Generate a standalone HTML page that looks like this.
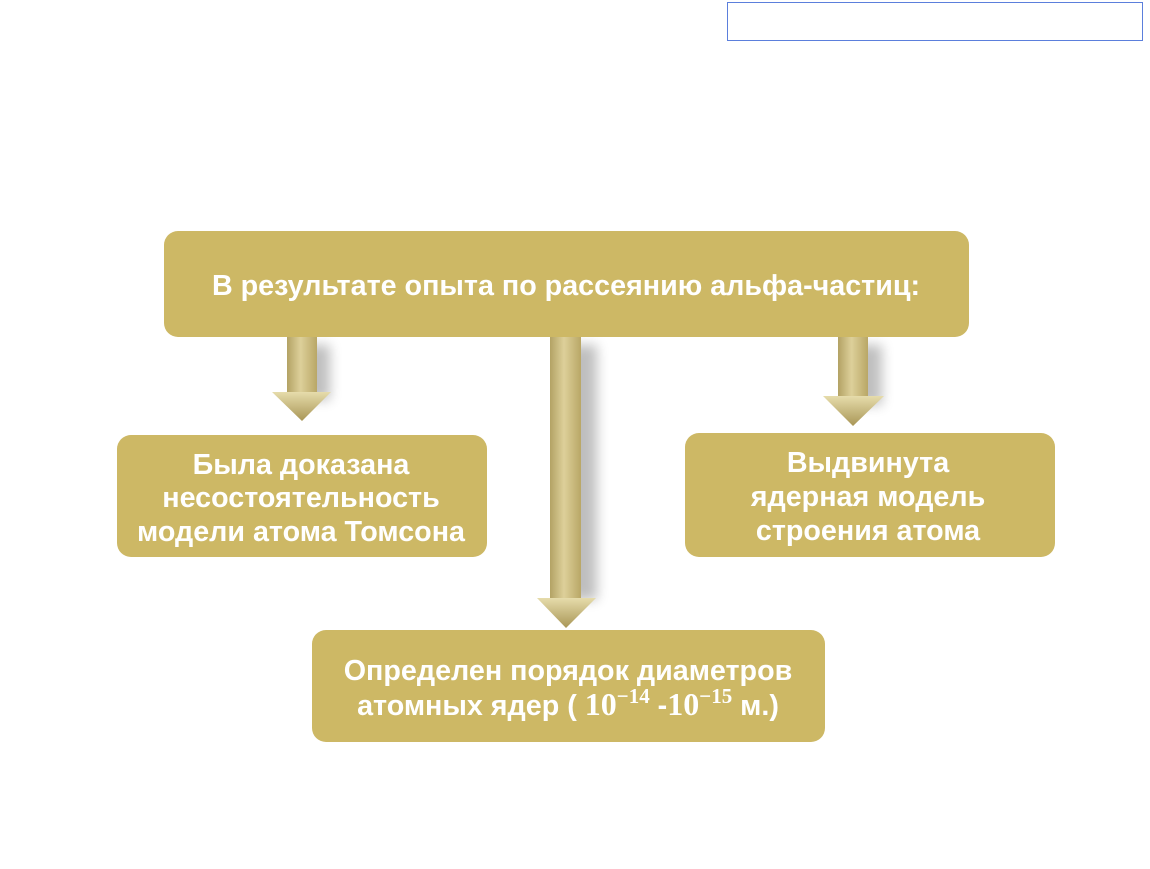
<!DOCTYPE html>
<html><head><meta charset="utf-8"><style>
body{margin:0;background:#fff;width:1150px;height:864px;overflow:hidden}
svg text{font-family:"Liberation Sans",sans-serif;font-weight:bold;fill:#fff;font-size:28.7px;text-anchor:middle}
</style></head><body>
<svg width="1150" height="864" viewBox="0 0 1150 864" xmlns="http://www.w3.org/2000/svg">
<defs>
<linearGradient id="g" x1="0" x2="1" y1="0" y2="0">
<stop offset="0" stop-color="#b3a264"/><stop offset="0.45" stop-color="#ddd09a"/><stop offset="1" stop-color="#b9a766"/>
</linearGradient>
<linearGradient id="h" x1="0" x2="0" y1="0" y2="1">
<stop offset="0" stop-color="#e6dcab"/><stop offset="1" stop-color="#a99656"/>
</linearGradient>
<filter id="s" x="-50%" y="-20%" width="200%" height="140%"><feGaussianBlur stdDeviation="6"/></filter>
</defs>
<rect x="727.5" y="2.5" width="415" height="38" fill="#fff" stroke="#5b7fdc" stroke-width="1"/>
<g fill="#000" opacity="0.25" filter="url(#s)">
<rect x="300" y="345" width="30" height="55"/><rect x="565" y="345" width="32" height="255"/><rect x="852" y="345" width="30" height="60"/>
</g>
<g>
<rect x="287" y="336" width="30" height="58" fill="url(#g)"/>
<polygon points="272,392 331,392 302,421" fill="url(#h)"/>
<rect x="550" y="336" width="31" height="264" fill="url(#g)"/>
<polygon points="537,598 596,598 566,628" fill="url(#h)"/>
<rect x="838" y="336" width="30" height="62" fill="url(#g)"/>
<polygon points="823,396 884,396 853,426" fill="url(#h)"/>
</g>
<g fill="#cdb865">
<rect x="164" y="231" width="805" height="106" rx="14"/>
<rect x="117" y="435" width="370" height="122" rx="14"/>
<rect x="685" y="433" width="370" height="124" rx="14"/>
<rect x="312" y="630" width="513" height="112" rx="14"/>
</g>
<text x="566" y="295">В результате опыта по рассеянию альфа-частиц:</text>
<text x="301" y="474">Была доказана</text>
<text x="301" y="507">несостоятельность</text>
<text x="301" y="541">модели атома Томсона</text>
<text x="868" y="472">Выдвинута</text>
<text x="868" y="506">ядерная модель</text>
<text x="868" y="540">строения атома</text>
<text x="568" y="680">Определен порядок диаметров</text>
<text x="568" y="715">атомных ядер ( <tspan font-family="Liberation Serif,serif" font-size="32">10<tspan dy="-12" font-size="21">−14</tspan></tspan><tspan dy="12"> -</tspan><tspan font-family="Liberation Serif,serif" font-size="32">10<tspan dy="-12" font-size="21">−15</tspan></tspan><tspan dy="12"> м.)</tspan></text>
</svg>
</body></html>
